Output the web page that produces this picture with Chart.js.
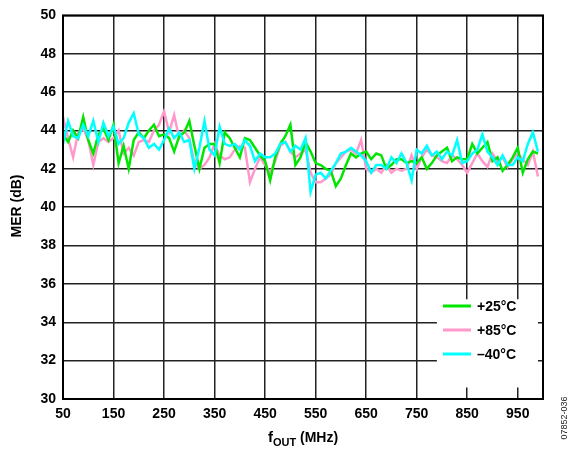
<!DOCTYPE html>
<html><head><meta charset="utf-8">
<script src="https://cdn.jsdelivr.net/npm/chart.js@4"></script>
<style>html,body{margin:0;padding:0;background:#fff}#wrap{position:relative;width:572px;height:451px}</style>
</head><body><div id="wrap"><canvas id="c" width="572" height="451"></canvas></div>
<script>
const freqs = [50,60,70,80,90,100,110,120,130,140,150,160,170,180,190,200,210,220,230,240,250,260,270,280,290,300,310,320,330,340,350,360,370,380,390,400,410,420,430,440,450,460,470,480,490,500,510,520,530,540,550,560,570,580,590,600,610,620,630,640,650,660,670,680,690,700,710,720,730,740,750,760,770,780,790,800,810,820,830,840,850,860,870,880,890,900,910,920,930,940,950,960,970,980,990];
const mer25 = [43.8,43.4,44.0,43.6,44.7,43.5,42.8,43.8,44.1,43.5,
  44.3,42.3,43.2,42.0,43.5,43.9,43.6,44.0,44.3,43.7,
  43.8,43.6,42.9,43.7,43.9,44.5,43.2,42.0,43.1,43.3,
  43.3,42.3,43.9,43.6,43.1,42.6,43.6,43.5,43.1,42.7,
  42.4,41.4,42.6,43.3,43.7,44.3,42.2,42.6,43.4,42.9,
  42.3,42.2,42.0,41.9,41.1,41.5,42.2,42.8,42.6,42.8,
  42.9,42.5,42.8,42.7,42.0,42.2,42.5,42.5,42.3,42.4,
  42.3,42.6,42.0,42.3,42.7,42.9,43.1,42.4,42.6,42.5,
  42.5,43.3,42.8,43.1,43.4,42.4,42.6,41.9,42.2,42.6,
  43.1,41.8,42.5,42.9,42.8];
const mer85 = [44.7,43.6,42.6,43.9,44.1,43.5,42.2,43.4,43.6,43.4,
  43.6,44.0,42.8,43.1,42.7,43.4,43.5,43.4,44.0,44.3,
  45.0,43.9,44.8,43.6,44.0,43.6,42.3,42.0,42.2,42.6,
  43.3,42.7,42.5,42.6,43.0,43.2,43.1,41.3,42.0,42.6,
  42.2,41.8,42.4,43.2,43.4,42.9,42.6,42.8,43.0,41.8,
  41.3,41.3,41.5,41.7,42.3,42.6,42.9,43.0,42.8,43.5,
  42.0,41.8,42.0,41.8,42.2,41.8,42.0,41.9,42.0,42.7,
  42.0,42.6,43.0,42.7,42.6,42.4,42.3,42.7,42.5,42.2,
  41.8,42.3,42.8,42.4,42.1,42.8,42.4,42.6,42.1,42.5,
  42.8,42.5,42.2,42.9,41.6];
const merM40 = [43.3,44.5,43.7,43.6,44.3,43.7,44.5,43.4,44.4,43.7,
  44.2,43.3,43.6,44.4,44.9,43.8,43.6,43.1,43.3,43.0,
  43.5,44.1,43.6,43.9,43.4,43.5,42.0,43.1,44.5,43.0,
  42.7,44.2,43.3,43.2,43.3,43.0,43.5,43.2,42.4,42.8,
  42.6,42.6,42.8,43.3,43.4,42.9,43.2,43.0,43.6,40.8,
  41.7,41.8,41.5,41.9,42.3,42.8,42.9,43.1,42.9,42.7,
  42.4,41.8,42.2,42.2,42.0,42.6,42.3,42.8,42.3,41.4,
  43.0,42.8,43.2,42.7,42.9,42.5,42.9,42.7,43.5,42.3,
  42.4,42.8,43.0,43.8,42.9,42.6,42.2,42.7,42.2,42.2,
  42.6,42.4,43.3,43.9,42.9];
const xTicks = [50,150,250,350,450,550,650,750,850,950];
const yTicks = [30,32,34,36,38,40,42,44,46,48,50];
const seriesLabels = ['+25°C','+85°C','\u201340°C'];
const seriesColors = ['#00e600','#ff99cc','#00ffff'];

const FONT = "'Liberation Sans', Arial, sans-serif";

function pts(vals){ return freqs.map((f,i)=>({x:f,y:vals[i]})); }

const decor = {
  id:'decor',
  beforeDatasetsDraw(chart){
    const ctx = chart.ctx, x = chart.scales.x, y = chart.scales.y;
    ctx.save();
    ctx.fillStyle = '#fff';
    ctx.fillRect(x.getPixelForValue(790), y.getPixelForValue(35.2), x.getPixelForValue(990)-x.getPixelForValue(790), y.getPixelForValue(30.6)-y.getPixelForValue(35.2));
    ctx.restore();
  },
  afterDraw(chart){
    const ctx = chart.ctx, a = chart.chartArea;
    ctx.save();
    ctx.strokeStyle = '#000'; ctx.lineWidth = 2;
    ctx.strokeRect(a.left, a.top, a.right-a.left, a.bottom-a.top);
    const ys = [306, 330, 354];
    chart.data.datasets.forEach((ds,i)=>{
      ctx.strokeStyle = ds.borderColor; ctx.lineWidth = 3;
      ctx.beginPath(); ctx.moveTo(443, ys[i]); ctx.lineTo(471, ys[i]); ctx.stroke();
      ctx.fillStyle = '#000'; ctx.font = 'bold 14px ' + FONT;
      ctx.textAlign = 'left'; ctx.textBaseline = 'middle';
      ctx.fillText(ds.label, 477, ys[i] + 1);
    });
    const p1 = 'f', p2 = 'OUT', p3 = ' (MHz)';
    ctx.textBaseline = 'alphabetic'; ctx.textAlign = 'left';
    ctx.font = 'bold 15px ' + FONT; const w1 = ctx.measureText(p1).width;
    ctx.font = 'bold 11px ' + FONT; const w2 = ctx.measureText(p2).width;
    ctx.font = 'bold 14px ' + FONT; const w3 = ctx.measureText(p3).width;
    let sx = 303 - (w1+w2+w3)/2; const by = 442;
    ctx.font = 'bold 15px ' + FONT; ctx.fillText(p1, sx, by); sx += w1;
    ctx.font = 'bold 11px ' + FONT; ctx.fillText(p2, sx, by + 4); sx += w2;
    ctx.font = 'bold 14px ' + FONT; ctx.fillText(p3, sx, by);
    ctx.save();
    ctx.translate(17, 206); ctx.rotate(-Math.PI/2);
    ctx.textAlign = 'center'; ctx.textBaseline = 'middle';
    ctx.font = 'bold 14px ' + FONT; ctx.fillText('MER (dB)', 0, 0);
    ctx.restore();
    ctx.save();
    ctx.translate(565, 418); ctx.rotate(-Math.PI/2);
    ctx.textAlign = 'center'; ctx.textBaseline = 'middle';
    ctx.font = '9px ' + FONT; ctx.fillStyle = '#222'; ctx.fillText('07852-036', 0, 0);
    ctx.restore();
    ctx.restore();
  }
};

new Chart(document.getElementById('c'), {
  type: 'line',
  data: {
    datasets: [
      {label: seriesLabels[0], data: pts(mer25), borderColor: seriesColors[0], order: 1},
      {label: seriesLabels[1], data: pts(mer85), borderColor: seriesColors[1], order: 2},
      {label: seriesLabels[2], data: pts(merM40), borderColor: seriesColors[2], order: 0}
    ].map(d => Object.assign(d, {borderWidth: 2.5, pointRadius: 0, tension: 0, fill: false}))
  },
  options: {
    responsive: false, devicePixelRatio: 1, animation: false,
    layout: {padding: {left: 0, right: 29, top: 15, bottom: 0}},
    plugins: {legend: {display: false}, tooltip: {enabled: false}},
    scales: {
      x: {
        type: 'linear', min: 50, max: 1000,
        afterBuildTicks: s => { s.ticks = xTicks.concat([1000]).map(v => ({value: v})); },
        afterFit: s => { s.height = 52; },
        grid: {color: '#222', lineWidth: 1.5, drawTicks: false},
        border: {display: false},
        ticks: {color: '#000', font: {family: FONT, weight: 'bold', size: 14}, padding: 7, maxRotation: 0, autoSkip: false,
          callback: v => v === 1000 ? '' : String(v)}
      },
      y: {
        min: 30, max: 50,
        afterBuildTicks: s => { s.ticks = yTicks.map(v => ({value: v})); },
        afterFit: s => { s.width = 63; },
        grid: {color: '#222', lineWidth: 1.5, drawTicks: false},
        border: {display: false},
        ticks: {color: '#000', font: {family: FONT, weight: 'bold', size: 14}, padding: 7}
      }
    }
  },
  plugins: [decor]
});
</script></body></html>
